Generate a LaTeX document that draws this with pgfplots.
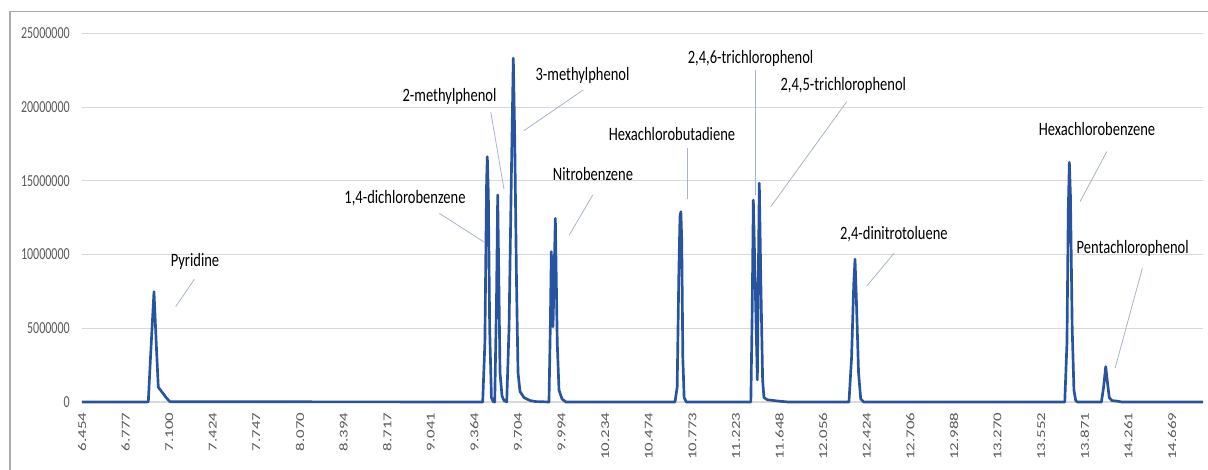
\documentclass[border=0pt]{standalone}
\usepackage{pgfplots}
\pgfplotsset{compat=1.18}
\usepackage{pgfplotstable}
\usepackage{graphicx}
\usepackage{fontspec}
\setmainfont{Carlito}
\definecolor{series}{RGB}{38,84,160}
\definecolor{gridgray}{RGB}{217,217,217}
\definecolor{ticktext}{RGB}{89,89,89}
\definecolor{leader}{RGB}{168,180,200}
\definecolor{border}{RGB}{170,170,170}
\newcommand\xs[1]{\scalebox{1.4}[1]{#1}}
\newcommand\ys[1]{\scalebox{1}[1.4]{#1}}
\newcommand\an[1]{\scalebox{1}[1.3]{#1}}
\pgfplotstableread{
X Y
0 0
14.9 0
15.21 30000
15.76 3300000
16.51 7480000
17.13 3300000
17.50 1000000
18.28 700000
19.43 250000
20.18 20000
91.9 0
92.4 4000000
92.8 15000000
92.96 16640000
93.2 14000000
93.5 5000000
93.9 300000
94.3 20000
94.66 0
95.07 7000000
95.34 14040000
95.57 9000000
95.87 2000000
96.33 400000
96.79 100000
97.41 0
97.94 5000000
98.51 16000000
98.92 23320000
99.24 18000000
99.66 8000000
100.0 2000000
100.46 700000
101.38 300000
102.75 100000
104 30000
107.1 0
107.4 5000000
107.64 10200000
108.03 5100000
108.56 12460000
109.0 4000000
109.4 800000
110.1 200000
111 0
136.0 0
136.5 1000000
136.9 9000000
137.15 12600000
137.35 12910000
137.55 11000000
137.8 3000000
138.1 300000
138.6 0
153.4 0
153.7 6000000
153.97 13700000
154.4 8000000
154.89 1500000
155.1 8000000
155.34 14840000
155.7 8000000
156.1 1500000
156.4 300000
157.2 150000
160 50000
162 0
175.9 0
176.5 3000000
177.0 8000000
177.29 9680000
177.6 7000000
178.1 2000000
178.6 200000
179.3 0
225.4 0
225.9 4000000
226.2 13000000
226.45 16260000
226.7 14000000
227.1 5000000
227.5 800000
227.9 100000
228.3 0
233.8 0
234.3 1000000
234.79 2400000
235.2 1300000
235.6 300000
236.2 100000
237.5 50000
238.5 0
257.1 0
}\chrom
\begin{document}
\begin{tikzpicture}
\path[use as bounding box] (-61.5pt,-51pt) rectangle (844.5pt,301.5pt);
\draw[border, line width=0.8pt] (-54pt,-51pt) -- (-54pt,292.7pt) -- (844.5pt,292.7pt);
\begin{axis}[
  at={(0,0)}, anchor=south west,
  scale only axis,
  width=840.75pt, height=276.4pt,
  xmin=0, xmax=257.1, ymin=0, ymax=25000000,
  clip=false,
  axis line style={draw=none},
  major tick length=0pt,
  tick style={draw=none},
  scaled y ticks=false,
  xmajorgrids=false,
  ymajorgrids=true,
  major grid style={draw=gridgray, line width=0.8pt},
  ytick={0,5000000,10000000,15000000,20000000,25000000},
  yticklabels={\ys{0},\ys{5000000},\ys{10000000},\ys{15000000},\ys{20000000},\ys{25000000}},
  yticklabel style={font=\fontsize{9}{10}\selectfont, text=ticktext, inner xsep=9pt, inner ysep=0pt},
  xtick={0,10,...,250},
  xticklabels={\xs{6.454},\xs{6.777},\xs{7.100},\xs{7.424},\xs{7.747},\xs{8.070},\xs{8.394},\xs{8.717},\xs{9.041},\xs{9.364},\xs{9.704},\xs{9.994},\xs{10.234},\xs{10.474},\xs{10.773},\xs{11.223},\xs{11.648},\xs{12.056},\xs{12.424},\xs{12.706},\xs{12.988},\xs{13.270},\xs{13.552},\xs{13.871},\xs{14.261},\xs{14.669}},
  xticklabel style={font=\fontsize{9}{10}\selectfont, text=ticktext, rotate=90, anchor=east, inner xsep=8pt, inner ysep=0pt},
]
\addplot[series, line width=2pt, line join=round, mark=none] table[x=X, y=Y] {\chrom};
% leader lines
\begin{scope}[leader, line width=0.6pt]
\draw (axis cs:25.76,8320000) -- (axis cs:21.49,6470000);
\draw (axis cs:81.95,12800000) -- (axis cs:92.43,10810000);
\draw (axis cs:93.74,19690000) -- (axis cs:96.79,14430000);
\draw (axis cs:114.98,21170000) -- (axis cs:101.38,18410000);
\draw (axis cs:117.13,14040000) -- (axis cs:111.77,11330000);
\draw (axis cs:138.83,17210000) -- (axis cs:138.83,13750000);
\draw (axis cs:154.47,22520000) -- (axis cs:154.47,14040000);
\draw (axis cs:175.39,20370000) -- (axis cs:157.96,13250000);
\draw (axis cs:186.24,10090000) -- (axis cs:179.98,7870000);
\draw (axis cs:235.02,16980000) -- (axis cs:228.9,13590000);
\draw (axis cs:243.19,9070000) -- (axis cs:236.93,2290000);
\end{scope}
\begin{scope}[every node/.style={font=\fontsize{10.9}{12}\selectfont, text=black, inner sep=0pt}]
\node at (axis cs:25.92,9500000) {\an{Pyridine}};
\node at (axis cs:74.08,13840000) {\an{1,4-dichlorobenzene}};
\node at (axis cs:84.29,20710000) {\an{2-methylphenol}};
\node at (axis cs:114.79,22180000) {\an{3-methylphenol}};
\node at (axis cs:117.2,15470000) {\an{Nitrobenzene}};
\node at (axis cs:135.32,18160000) {\an{Hexachlorobutadiene}};
\node at (axis cs:153.33,23320000) {\an{2,4,6-trichlorophenol}};
\node at (axis cs:174.6,21500000) {\an{2,4,5-trichlorophenol}};
\node at (axis cs:186.2,11380000) {\an{2,4-dinitrotoluene}};
\node at (axis cs:232.8,18500000) {\an{Hexachlorobenzene}};
\node at (axis cs:240.98,10430000) {\an{Pentachlorophenol}};
\end{scope}
\end{axis}
\end{tikzpicture}
\end{document}
